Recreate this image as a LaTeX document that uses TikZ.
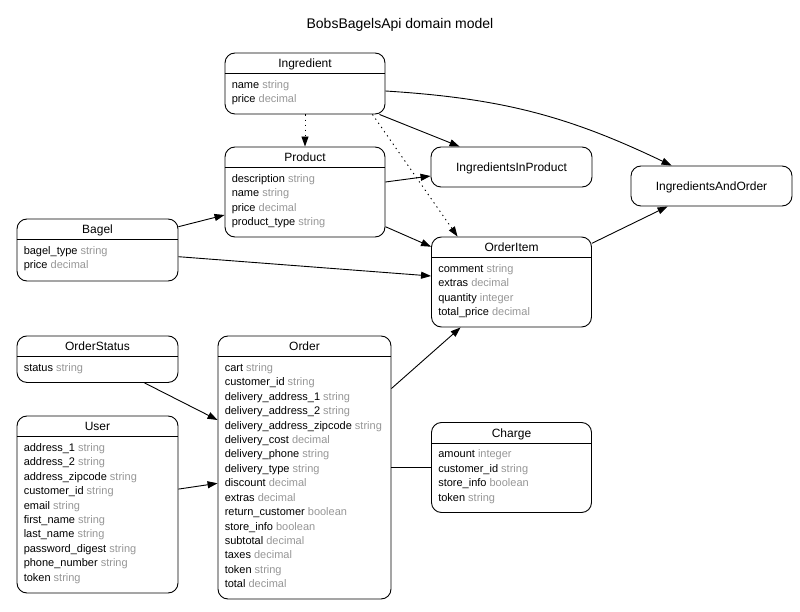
\documentclass[tikz,border=0pt]{standalone}
\usepackage{fontspec}
\setmainfont{Liberation Sans}
\usetikzlibrary{arrows.meta}
\definecolor{typegray}{RGB}{150,150,150}
\newcommand{\atype}[1]{\textcolor{typegray}{#1}}

\begin{document}
\begin{tikzpicture}[x=1pt, y=1pt,
	entity/.style={draw, line width=0.9pt, rounded corners=10pt, inner sep=0pt},
	etitle/.style={anchor=base, inner sep=0pt, font=\fontsize{12}{14}\selectfont},
	eattrs/.style={anchor=north west, inner sep=0pt, align=left, font=\fontsize{11}{14.44}\selectfont},
	hline/.style={line width=0.9pt},
	rel/.style={line width=0.9pt, -{Triangle[length=10pt,width=7pt]}},
	weak/.style={rel, dash pattern=on 1.3pt off 3.8pt}]
\useasboundingbox (0,0) rectangle (800,-612);

		\node [anchor=base, font=\fontsize{14}{16}\selectfont] (title) at (400, -29) {BobsBagelsApi domain model};

		\node [entity, minimum width=160, minimum height=61] (ingredient) at (305, -83.5) {};
		\node [entity, minimum width=160, minimum height=90] (product) at (305, -192) {};
		\node [entity, minimum width=161, minimum height=40] (iip) at (511.5, -167) {};
		\node [entity, minimum width=161, minimum height=40] (iao) at (711.5, -186) {};
		\node [entity, minimum width=161, minimum height=62] (bagel) at (97.5, -250) {};
		\node [entity, minimum width=160, minimum height=90] (orderitem) at (511.5, -282) {};
		\node [entity, minimum width=161, minimum height=46.5] (orderstatus) at (97.5, -359.2) {};
		\node [entity, minimum width=173, minimum height=263] (order) at (304.5, -467.5) {};
		\node [entity, minimum width=161, minimum height=177] (user) at (97.5, -504.5) {};
		\node [entity, minimum width=160, minimum height=90] (charge) at (511.5, -467.5) {};

		\node [etitle] (iip-t) at ([yshift=-4.3pt]iip.center) {IngredientsInProduct};
		\node [etitle] (iao-t) at ([yshift=-4.3pt]iao.center) {IngredientsAndOrder};

% Ingredient
		\node [etitle] (ingredient-t) at ([yshift=-15.3pt]ingredient.north) {Ingredient};
		\draw [hline] ([yshift=-21pt]ingredient.north west) -- ([yshift=-21pt]ingredient.north east);
		\node [eattrs] (ingredient-a) at ([xshift=7pt, yshift=-25.4pt]ingredient.north west)
			{\strut name \atype{string}\\ price \atype{decimal}};
% Product
		\node [etitle] (product-t) at ([yshift=-15.3pt]product.north) {Product};
		\draw [hline] ([yshift=-21pt]product.north west) -- ([yshift=-21pt]product.north east);
		\node [eattrs] (product-a) at ([xshift=7pt, yshift=-25.4pt]product.north west)
			{\strut description \atype{string}\\ name \atype{string}\\ price \atype{decimal}\\
			product\_type \atype{string}};
% Bagel
		\node [etitle] (bagel-t) at ([yshift=-15.3pt]bagel.north) {Bagel};
		\draw [hline] ([yshift=-21pt]bagel.north west) -- ([yshift=-21pt]bagel.north east);
		\node [eattrs] (bagel-a) at ([xshift=7pt, yshift=-25.4pt]bagel.north west)
			{\strut bagel\_type \atype{string}\\ price \atype{decimal}};
% OrderItem
		\node [etitle] (orderitem-t) at ([yshift=-15.3pt]orderitem.north) {OrderItem};
		\draw [hline] ([yshift=-21pt]orderitem.north west) -- ([yshift=-21pt]orderitem.north east);
		\node [eattrs] (orderitem-a) at ([xshift=7pt, yshift=-25.4pt]orderitem.north west)
			{\strut comment \atype{string}\\ extras \atype{decimal}\\ quantity \atype{integer}\\
			total\_price \atype{decimal}};
% OrderStatus
		\node [etitle] (orderstatus-t) at ([yshift=-15.3pt]orderstatus.north) {OrderStatus};
		\draw [hline] ([yshift=-21pt]orderstatus.north west) -- ([yshift=-21pt]orderstatus.north east);
		\node [eattrs] (orderstatus-a) at ([xshift=7pt, yshift=-25.4pt]orderstatus.north west)
			{\strut status \atype{string}};
% Order
		\node [etitle] (order-t) at ([yshift=-15.3pt]order.north) {Order};
		\draw [hline] ([yshift=-21pt]order.north west) -- ([yshift=-21pt]order.north east);
		\node [eattrs] (order-a) at ([xshift=7pt, yshift=-25.4pt]order.north west)
			{\strut cart \atype{string}\\ customer\_id \atype{string}\\
			delivery\_address\_1 \atype{string}\\ delivery\_address\_2 \atype{string}\\
			delivery\_address\_zipcode \atype{string}\\ delivery\_cost \atype{decimal}\\
			delivery\_phone \atype{string}\\ delivery\_type \atype{string}\\
			discount \atype{decimal}\\ extras \atype{decimal}\\
			return\_customer \atype{boolean}\\ store\_info \atype{boolean}\\
			subtotal \atype{decimal}\\ taxes \atype{decimal}\\
			token \atype{string}\\ total \atype{decimal}};
% User
		\node [etitle] (user-t) at ([yshift=-15.3pt]user.north) {User};
		\draw [hline] ([yshift=-21pt]user.north west) -- ([yshift=-21pt]user.north east);
		\node [eattrs] (user-a) at ([xshift=7pt, yshift=-25.4pt]user.north west)
			{\strut address\_1 \atype{string}\\ address\_2 \atype{string}\\
			address\_zipcode \atype{string}\\ customer\_id \atype{string}\\
			email \atype{string}\\ first\_name \atype{string}\\
			last\_name \atype{string}\\ password\_digest \atype{string}\\
			phone\_number \atype{string}\\ token \atype{string}};
% Charge
		\node [etitle] (charge-t) at ([yshift=-15.3pt]charge.north) {Charge};
		\draw [hline] ([yshift=-21pt]charge.north west) -- ([yshift=-21pt]charge.north east);
		\node [eattrs] (charge-a) at ([xshift=7pt, yshift=-25.4pt]charge.north west)
			{\strut amount \atype{integer}\\ customer\_id \atype{string}\\
			store\_info \atype{boolean}\\ token \atype{string}};

% relations
		\draw [weak] (ingredient.south) to (product.north);
		\draw [rel] ([xshift=-6pt]ingredient.south east) to ([xshift=29pt]iip.north west);
		\draw [weak] ([xshift=-13pt]ingredient.south east) to ([xshift=26.5pt]orderitem.north west);
		\draw [rel, bend left=11] ([yshift=-7.5pt]ingredient.east) to ([xshift=41pt]iao.north west);
		\draw [rel] ([yshift=10pt]product.east) to ([yshift=-9pt]iip.west);
		\draw [rel] ([yshift=-34.7pt]product.east) to ([yshift=35.3pt]orderitem.west);
		\draw [rel] ([yshift=23.3pt]bagel.east) to ([yshift=-23pt]product.west);
		\draw [rel] ([yshift=-6.7pt]bagel.east) to ([yshift=6pt]orderitem.west);
		\draw [rel] ([yshift=38.7pt]orderitem.east) to ([xshift=37pt]iao.south west);
		\draw [rel] ([yshift=79pt]order.east) to ([xshift=29.5pt]orderitem.south west);
		\draw [rel] ([xshift=47pt]orderstatus.south) to ([yshift=47.5pt]order.west);
		\draw [rel] ([yshift=15.4pt]user.east) to ([yshift=-15.8pt]order.west);
		\draw [hline] (order) to (charge);
\end{tikzpicture}
\end{document}
